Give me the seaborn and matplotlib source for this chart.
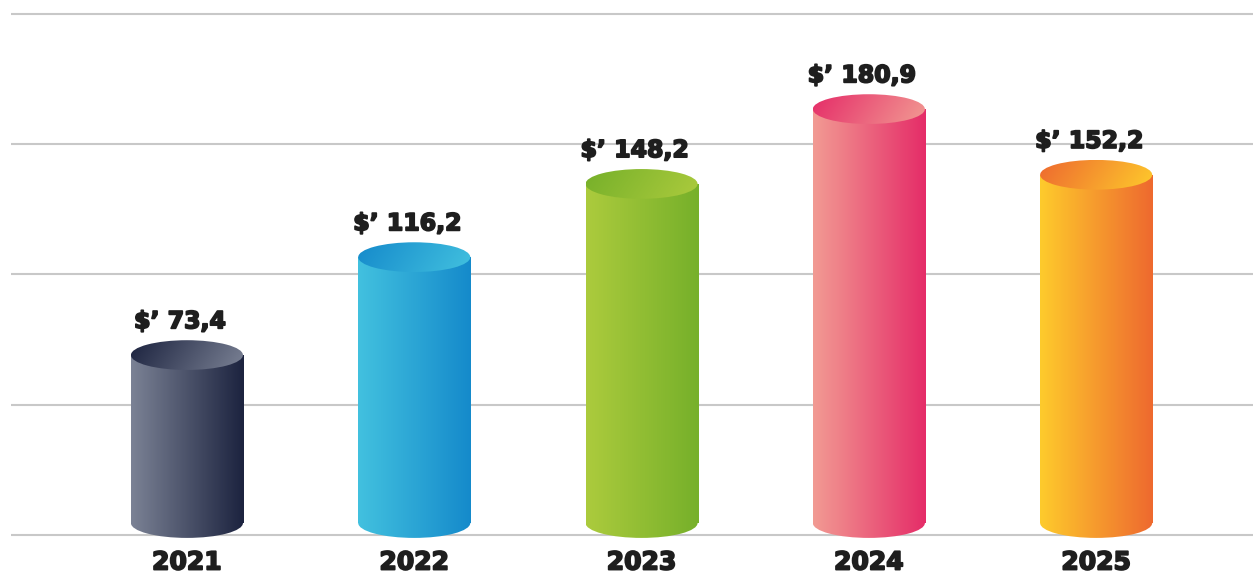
import numpy as np
import pandas as pd
import matplotlib
matplotlib.use("Agg")
import matplotlib.pyplot as plt
import matplotlib.patheffects as pe
import seaborn as sns
from matplotlib.patches import Ellipse, Rectangle
from matplotlib.colors import LinearSegmentedColormap

# ---- data ----
years = ["2021", "2022", "2023", "2024", "2025"]
values = [73.4, 116.2, 148.2, 180.9, 152.2]
value_labels = ["$\u2019 73,4", "$\u2019 116,2", "$\u2019 148,2", "$\u2019 180,9", "$\u2019 152,2"]

# ---- styles ----
side_left = ["#7b8295", "#42c1df", "#accb3d", "#f29b93", "#fecb2c"]
side_right = ["#1c233f", "#158acb", "#76b02a", "#e52c68", "#ee692f"]

sns.set_theme(style="white")
plt.rcParams['font.family'] = ['DejaVu Sans']

W, H = 1253, 575
fig = plt.figure(figsize=(W / 100, H / 100), dpi=100)
ax = fig.add_axes([11 / W, 30 / H, 1 - 11 / W, 540 / H])

df = pd.DataFrame({"year": years, "value": values})
bar_w = 0.493
sns.barplot(data=df, x="year", y="value", ax=ax, width=bar_w,
            color="white", errorbar=None, zorder=1)

ylim = (-9.6, 226.4)
xlim = (-0.774, 4.69)
e = 6.5  # half-height of cylinder ellipses (data units)
txt_color = "#1e1e1e"
bold_fx = [pe.withStroke(linewidth=1.3, foreground=txt_color)]

grad_h = np.linspace(0, 1, 256).reshape(1, -1)
yy, xx = np.mgrid[0:1:64j, 0:1:256j]
grad_d = np.clip(xx * 0.85 + (1 - yy) * 0.15, 0, 1)  # diagonal for top

for i, p in enumerate(list(ax.patches)[:len(values)]):
    p.set_alpha(0)
    x0 = p.get_x()
    w = p.get_width()
    v = p.get_height()
    cx = x0 + w / 2
    cmap_side = LinearSegmentedColormap.from_list(f"s{i}", [side_left[i], side_right[i]])
    cmap_top = LinearSegmentedColormap.from_list(f"t{i}", [side_right[i], side_left[i]])

    # side body
    rect = Rectangle((x0, 0), w, v, transform=ax.transData, facecolor="none", edgecolor="none")
    im = ax.imshow(grad_h, extent=[x0, x0 + w, -e, v], aspect="auto", cmap=cmap_side,
                   interpolation="bicubic", zorder=3, origin="lower")
    im.set_clip_path(rect)
    # bottom ellipse
    bell = Ellipse((cx, 0), w, 2 * e, transform=ax.transData, facecolor="none", edgecolor="none")
    im2 = ax.imshow(grad_h, extent=[x0, x0 + w, -e, v], aspect="auto", cmap=cmap_side,
                    interpolation="bicubic", zorder=3, origin="lower")
    im2.set_clip_path(bell)
    # top ellipse
    tell = Ellipse((cx, v), w, 2 * e, transform=ax.transData, facecolor="none", edgecolor="none")
    im3 = ax.imshow(grad_d, extent=[x0, x0 + w, v - e, v + e], aspect="auto", cmap=cmap_top,
                    interpolation="bicubic", zorder=4, origin="lower")
    im3.set_clip_path(tell)

    ax.annotate(value_labels[i], xy=(cx, v + e), xytext=(-5, 5), textcoords="offset points",
                ha="center", va="bottom", fontsize=17, fontweight="heavy", color=txt_color,
                zorder=5, path_effects=bold_fx)

ax.set_xlim(*xlim)
ax.set_ylim(*ylim)
ax.set_yticks(np.linspace(-5.2, 222.5, 5))
ax.set_yticklabels([])
ax.yaxis.grid(True, color="#c8c8c8", linewidth=1.5)
ax.xaxis.grid(False)
ax.set_axisbelow(True)
ax.tick_params(axis="y", length=0)
ax.tick_params(axis="x", length=0, pad=4)
for lab in ax.get_xticklabels():
    lab.set_fontsize(18)
    lab.set_fontweight("heavy")
    lab.set_color(txt_color)
    lab.set_path_effects(bold_fx)
ax.set_xlabel("")
ax.set_ylabel("")
for s in ax.spines.values():
    s.set_visible(False)
ax.patch.set_alpha(0)

fig.savefig("out.png", dpi=100, facecolor="white")
